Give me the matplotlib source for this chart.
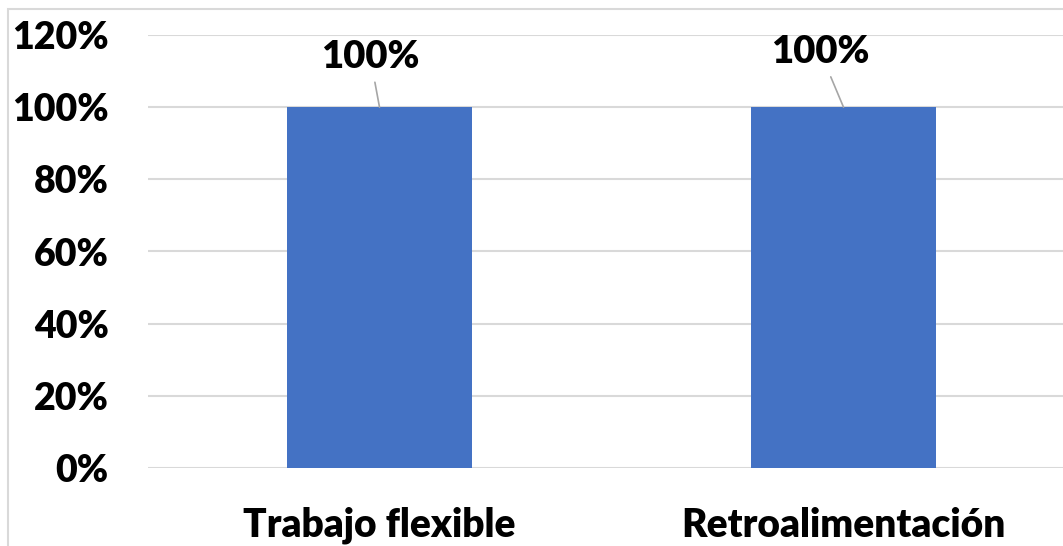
import matplotlib.pyplot as plt
from matplotlib.patches import Rectangle

categories = ["Trabajo flexible", "Retroalimentación"]
values = [1.0, 1.0]
labels = ["100%", "100%"]
ticks = [0, 0.2, 0.4, 0.6, 0.8, 1.0, 1.2]
tick_labels = ["0%", "20%", "40%", "60%", "80%", "100%", "120%"]

plt.rcParams['font.family'] = ['Lato', 'DejaVu Sans']

fig = plt.figure(figsize=(10.63, 5.46), dpi=100)
W, H = 1063, 546
ax = fig.add_axes([147.5 / W, 78 / H, 928 / W, 433 / H])

x = range(len(categories))
ax.bar(x, values, width=0.4, color="#4472c4", zorder=3)
ax.set_xlim(-0.5, 1.5)
ax.set_ylim(0, 1.2)
ax.set_yticks(ticks)
ax.set_yticklabels(tick_labels, fontsize=27, fontweight="heavy")
ax.set_xticks(list(x))
ax.set_xticklabels(categories, fontsize=28, fontweight="heavy")
ax.tick_params(axis="y", length=0, pad=28)
ax.tick_params(axis="x", length=0, pad=28)
ax.grid(axis="y", color="#d9d9d9", linewidth=1.5, zorder=0)
for s in ax.spines.values():
    s.set_visible(False)

# data labels pulled up with leader lines, as in the original
offsets = [(-0.02, 1.139), (0.95, 1.153)]
for i, (lab, v) in enumerate(zip(labels, values)):
    ox, oy = offsets[i]
    ax.annotate(lab, xy=(i, v), xytext=(ox, oy), ha="center", va="center",
                fontsize=27.5, fontweight="heavy",
                arrowprops=dict(arrowstyle="-", color="#a6a6a6", lw=1.2,
                                shrinkA=4, shrinkB=0))

# chart border (cropped at right and bottom)
fig.patches.append(Rectangle((8 / W, -0.1), 1.2, (H - 9) / H + 0.1,
                             transform=fig.transFigure, fill=False,
                             edgecolor="#d9d9d9", linewidth=1.5))

fig.savefig("out.png", dpi=100)
